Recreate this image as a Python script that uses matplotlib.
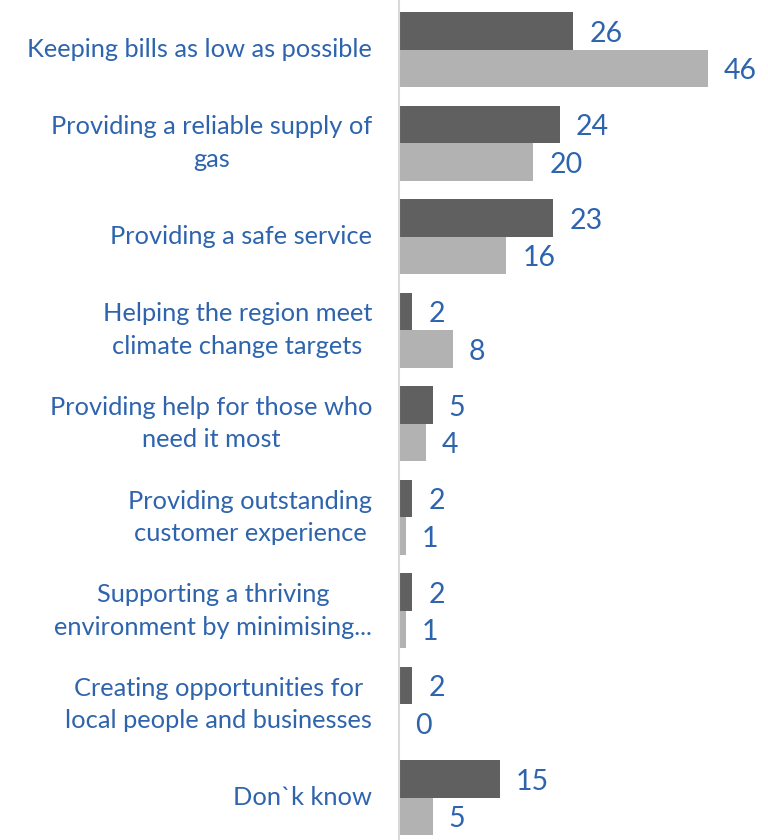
import matplotlib.pyplot as plt
import numpy as np

# priorities, two survey groups
categories = [
    "Keeping bills as low as possible",
    "Providing a reliable supply of\ngas",
    "Providing a safe service",
    "Helping the region meet\nclimate change targets",
    "Providing help for those who\nneed it most",
    "Providing outstanding\ncustomer experience",
    "Supporting a thriving\nenvironment by minimising...",
    "Creating opportunities for\nlocal people and businesses",
    "Don`k know",
]
series_dark = [26, 24, 23, 2, 5, 2, 2, 2, 15]
series_light = [46, 20, 16, 8, 4, 1, 1, 0, 5]

DARK = "#606060"
LIGHT = "#b2b2b2"
BLUE = "#2e64ae"

plt.rcParams['font.family'] = ['Lato', 'DejaVu Sans']

fig = plt.figure(figsize=(7.68, 8.4), dpi=100)
ax = fig.add_axes([399 / 768, 0, 1 - 399 / 768, 1])

y = np.arange(len(categories))
h = 0.4
ax.barh(y - h / 2, series_dark, height=h, color=DARK)
ax.barh(y + h / 2, series_light, height=h, color=LIGHT)

for yi, v in zip(y, series_dark):
    ax.text(v + 2.4, yi - h / 2 + 0.03, str(v), color=BLUE, fontsize=20.5,
            ha='left', va='center')
for yi, v in zip(y, series_light):
    ax.text(v + 2.4, yi + h / 2 + 0.03, str(v), color=BLUE, fontsize=20.5,
            ha='left', va='center')

for yi, lab in zip(y, categories):
    ax.text(-4.0, yi, lab, color=BLUE, fontsize=18.3, ha='right',
            va='center', multialignment='center', linespacing=1.5)

ax.set_xlim(0, 55)
ax.set_ylim(8.45, -0.53)
ax.set_xticks([])
ax.set_yticks([])
for s in ['top', 'right', 'bottom']:
    ax.spines[s].set_visible(False)
ax.spines['left'].set_color('#d9d9d9')
ax.spines['left'].set_linewidth(1.5)

fig.savefig("out.png", dpi=100)
